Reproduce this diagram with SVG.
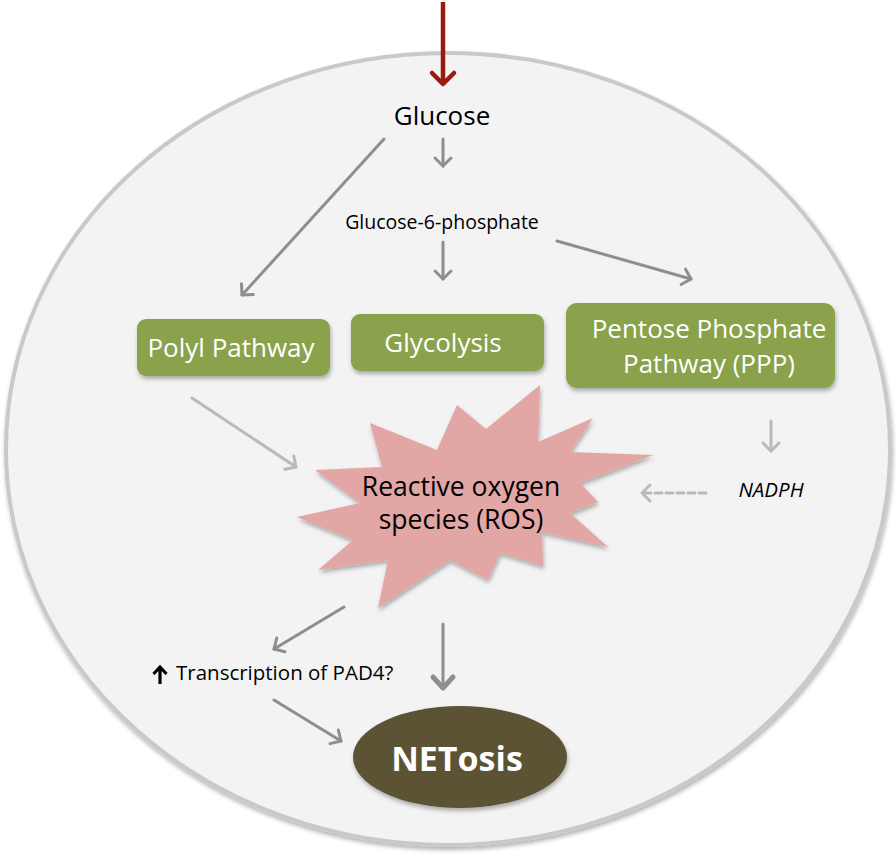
<svg xmlns="http://www.w3.org/2000/svg" width="896" height="860" viewBox="0 0 896 860">
<defs>
<style>
text{font-family:"Open Sans","Noto Sans",sans-serif;}
.dk{fill:#000;}
.wt{fill:#fff;}
.box{fill:#8aa24b;}
.ln{fill:none;stroke:#8e8e8e;stroke-width:3;stroke-linecap:round;}
.lt{fill:none;stroke:#b9b9b9;stroke-width:3;stroke-linecap:round;}
</style>
<filter id="sh" x="-10%" y="-10%" width="130%" height="140%">
<feDropShadow dx="1" dy="3" stdDeviation="2" flood-color="#000" flood-opacity="0.3"/>
</filter>
<marker id="ag" markerUnits="userSpaceOnUse" markerWidth="24" markerHeight="24" viewBox="-12 -12 24 24" refX="0" refY="0" orient="auto">
<path d="M-8,-8 L0,0 L-8,8" fill="none" stroke="#8e8e8e" stroke-width="3" stroke-linecap="round" stroke-linejoin="round"/>
</marker>
<marker id="agb" markerUnits="userSpaceOnUse" markerWidth="30" markerHeight="30" viewBox="-15 -15 30 30" refX="0" refY="0" orient="auto">
<path d="M-11,-10 L0,0 L-11,10" fill="none" stroke="#8e8e8e" stroke-width="5" stroke-linecap="round" stroke-linejoin="round"/>
</marker>
<marker id="al" markerUnits="userSpaceOnUse" markerWidth="24" markerHeight="24" viewBox="-12 -12 24 24" refX="0" refY="0" orient="auto">
<path d="M-8,-8 L0,0 L-8,8" fill="none" stroke="#b9b9b9" stroke-width="3" stroke-linecap="round" stroke-linejoin="round"/>
</marker>
<marker id="ar" markerUnits="userSpaceOnUse" markerWidth="30" markerHeight="30" viewBox="-15 -15 30 30" refX="0" refY="0" orient="auto">
<path d="M-11,-11 L0,0 L-11,11" fill="none" stroke="#991a0f" stroke-width="4.5" stroke-linecap="round" stroke-linejoin="round"/>
</marker>
</defs>

<g id="cell">
<ellipse cx="448" cy="449" rx="442" ry="396" fill="#f3f3f3" stroke="#c9c9c9" stroke-width="4" filter="url(#sh)"/>
</g>

<g id="connectors">
<line x1="443" y1="2" x2="443" y2="84" stroke="#991a0f" stroke-width="4.5" marker-end="url(#ar)"/>
<line class="ln" x1="443" y1="139" x2="443" y2="166" marker-end="url(#ag)"/>
<line class="ln" x1="384" y1="139" x2="242" y2="295" marker-end="url(#ag)"/>
<line class="ln" x1="443" y1="242" x2="443" y2="279" marker-end="url(#ag)"/>
<line class="ln" x1="557" y1="241" x2="691" y2="279" marker-end="url(#ag)"/>
<line class="lt" x1="192" y1="398" x2="296" y2="467" marker-end="url(#al)"/>
<line class="lt" x1="771" y1="421" x2="771" y2="451" marker-end="url(#al)"/>
<line class="lt" x1="706" y1="493" x2="642" y2="493" stroke-dasharray="7,4" stroke-linecap="butt" marker-end="url(#al)"/>
<line class="ln" x1="344" y1="607" x2="274" y2="649" marker-end="url(#ag)"/>
<line class="ln" x1="443" y1="624" x2="443" y2="688" stroke-width="5" marker-end="url(#agb)"/>
<line class="ln" x1="274" y1="700" x2="341" y2="741" marker-end="url(#ag)"/>
</g>

<g id="glucose">
<text x="442" y="125" font-size="26" text-anchor="middle" class="dk">Glucose</text>
</g>

<g id="g6p">
<text x="442" y="229" font-size="19.5" text-anchor="middle" class="dk">Glucose-6-phosphate</text>
</g>

<g id="polyl">
<rect class="box" x="137" y="319" width="193" height="57" rx="9" filter="url(#sh)"/>
<text x="231" y="357" font-size="26" text-anchor="middle" class="wt">Polyl Pathway</text>
</g>

<g id="glycolysis">
<rect class="box" x="351" y="314" width="193" height="57" rx="9" filter="url(#sh)"/>
<text x="443" y="352" font-size="26" text-anchor="middle" class="wt">Glycolysis</text>
</g>

<g id="ppp">
<rect class="box" x="566" y="303" width="269" height="85" rx="11" filter="url(#sh)"/>
<text x="709" y="338" font-size="26" text-anchor="middle" class="wt">Pentose Phosphate</text>
<text x="709" y="373" font-size="26" text-anchor="middle" class="wt">Pathway (PPP)</text>
</g>

<g id="ros">
<polygon points="370,423 437,450 457,405 486,429 540,385 538,442 593,418 570,452 653,455 580,483 598,502 570,513 608,547 542,532 543,566 500,553 488,580 450,560 378,608 388,560 318,570 353,540 297,517 360,503 315,470 382,467" fill="#e2a6a5" filter="url(#sh)"/>
<text x="461" y="496" font-size="26.5" text-anchor="middle" class="dk">Reactive oxygen</text>
<text x="461" y="529" font-size="26.5" text-anchor="middle" class="dk">species (ROS)</text>
</g>

<g id="nadph">
<text x="771" y="497" font-size="20.5" font-style="italic" text-anchor="middle" class="dk">NADPH</text>
</g>

<g id="pad4">
<path d="M160,684 L160,668 M153.5,674 L160,667 L166.5,674" fill="none" stroke="#000" stroke-width="3.2"/>
<text x="176" y="680" font-size="20.5" class="dk">Transcription of PAD4?</text>
</g>

<g id="netosis">
<ellipse cx="460" cy="757" rx="107" ry="51" fill="#5c5235" filter="url(#sh)"/>
<text x="457" y="771" font-size="34" font-weight="bold" text-anchor="middle" class="wt">NETosis</text>
</g>
</svg>
